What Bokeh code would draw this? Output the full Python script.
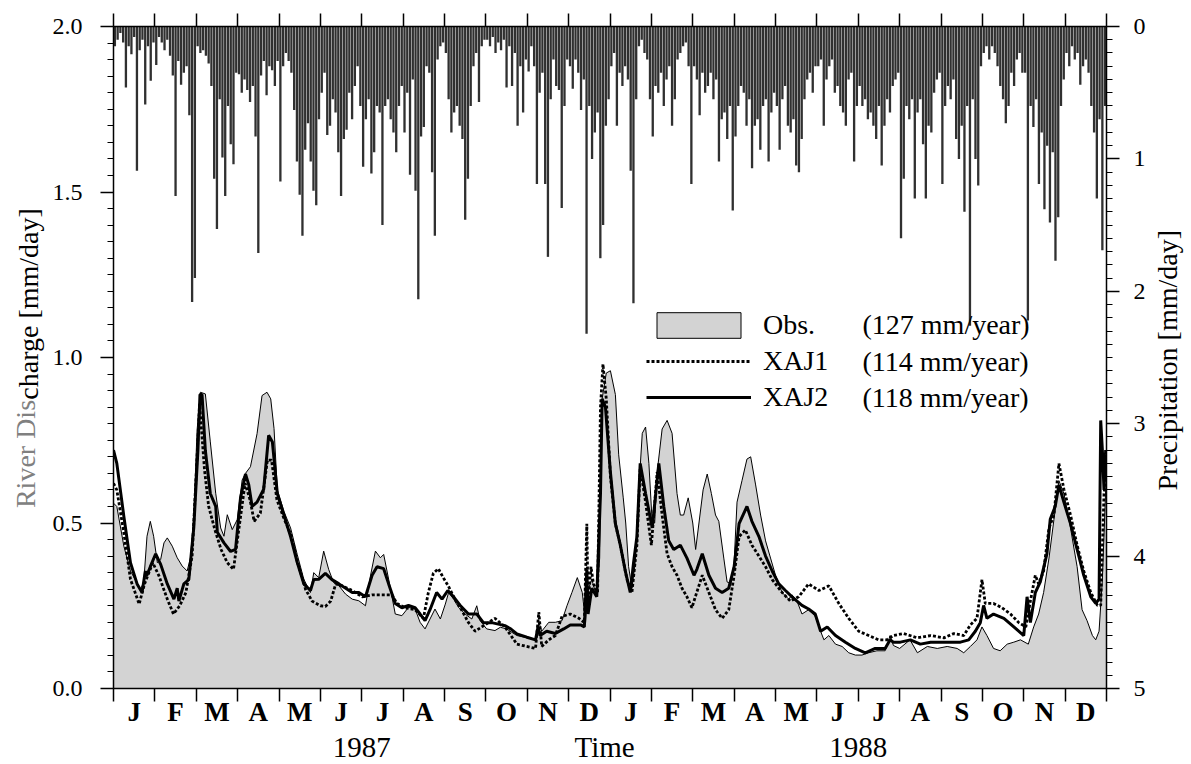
import math
from bokeh.plotting import figure
from bokeh.models import (LinearAxis, Range1d, FixedTicker, Label,
                          Legend, LegendItem, NumeralTickFormatter)
from bokeh.embed import file_html
from bokeh.resources import INLINE

# ---------------- data (x in months since Jan 1987, equal-width months) -------------
month_labels = ["J", "F", "M", "A", "M", "J", "J", "A", "S", "O", "N", "D"]
year_labels = ["1987", "1988"]
x_title = "Time"
y_title_parts = ["River Dis", "charge [mm/day]"]
y2_title = "Precipitation [mm/day]"
legend_names = ["Obs.", "XAJ1", "XAJ2"]
legend_totals = ["(127 mm/year)", "(114 mm/year)", "(118 mm/year)"]

obs_t = [0.00, 0.08, 0.25, 0.41, 0.65, 0.73, 0.81, 0.89, 0.97, 1.06, 1.14, 1.22, 1.30, 1.42, 1.54, 1.66,
         1.78, 1.86, 1.94, 2.02, 2.10, 2.22, 2.34, 2.47, 2.59, 2.67, 2.75, 2.87, 2.99, 3.11, 3.19, 3.31,
         3.47, 3.59, 3.71, 3.80, 3.88, 3.96, 4.12, 4.28, 4.44, 4.60, 4.76, 4.84, 4.96, 5.08, 5.20, 5.32,
         5.45, 5.61, 5.77, 5.93, 6.09, 6.21, 6.33, 6.45, 6.53, 6.65, 6.81, 6.97, 7.13, 7.29, 7.41, 7.53,
         7.65, 7.77, 7.90, 8.02, 8.10, 8.22, 8.34, 8.50, 8.66, 8.78, 8.86, 9.02, 9.22, 9.35, 9.50, 9.75,
         9.99, 10.20, 10.28, 10.35, 10.52, 10.68, 10.84, 10.96, 11.08, 11.21, 11.33, 11.41, 11.45, 11.56,
         11.68, 11.75, 11.81, 11.91, 12.01, 12.13, 12.21, 12.32, 12.38, 12.45, 12.53, 12.61, 12.69, 12.78,
         12.86, 12.94, 13.02, 13.08, 13.14, 13.26, 13.38, 13.50, 13.62, 13.70, 13.78, 13.89, 14.00, 14.07,
         14.15, 14.25, 14.35, 14.45, 14.55, 14.63, 14.75, 14.83, 14.92, 15.00, 15.07, 15.19, 15.31, 15.40,
         15.52, 15.64, 15.76, 15.88, 16.00, 16.16, 16.32, 16.40, 16.52, 16.64, 16.80, 16.96, 17.09, 17.17,
         17.29, 17.45, 17.61, 17.77, 17.93, 18.09, 18.25, 18.45, 18.65, 18.77, 18.85, 19.00, 19.25, 19.43,
         19.67, 19.91, 20.15, 20.39, 20.55, 20.71, 20.87, 20.99, 21.11, 21.27, 21.43, 21.60, 21.76, 21.92,
         22.11, 22.24, 22.36, 22.48, 22.61, 22.73, 22.85, 22.97, 23.13, 23.29, 23.41, 23.53, 23.66, 23.74,
         23.82, 23.90, 23.98, 24.00]
obs_v = [0.56, 0.55, 0.43, 0.355, 0.30, 0.32, 0.46, 0.505, 0.46, 0.38, 0.39, 0.44, 0.455, 0.43, 0.395, 0.37,
         0.355, 0.395, 0.52, 0.78, 0.895, 0.89, 0.745, 0.59, 0.485, 0.46, 0.525, 0.48, 0.51, 0.63, 0.65, 0.67,
         0.77, 0.885, 0.895, 0.875, 0.785, 0.60, 0.535, 0.485, 0.405, 0.33, 0.29, 0.35, 0.335, 0.415, 0.36, 0.32,
         0.31, 0.285, 0.27, 0.265, 0.25, 0.34, 0.415, 0.395, 0.405, 0.33, 0.225, 0.22, 0.245, 0.24, 0.20, 0.18,
         0.21, 0.24, 0.21, 0.255, 0.29, 0.27, 0.245, 0.225, 0.21, 0.25, 0.205, 0.18, 0.175, 0.185, 0.18, 0.16,
         0.153, 0.147, 0.20, 0.173, 0.20, 0.20, 0.205, 0.25, 0.29, 0.335, 0.29, 0.20, 0.29, 0.33,
         0.277, 0.394, 0.875, 0.953, 0.96, 0.888, 0.706, 0.576, 0.50, 0.368, 0.303, 0.381, 0.589, 0.771,
         0.79, 0.68, 0.50, 0.50, 0.654, 0.784, 0.81, 0.771, 0.589, 0.524, 0.524, 0.576, 0.50, 0.42,
         0.50, 0.60, 0.648, 0.589, 0.524, 0.505, 0.394, 0.322, 0.316, 0.381, 0.563, 0.628, 0.693, 0.70,
         0.615, 0.524, 0.446, 0.394, 0.342, 0.29, 0.27, 0.283, 0.264, 0.225, 0.238, 0.218, 0.173, 0.147,
         0.16, 0.134, 0.127, 0.108, 0.101, 0.101, 0.108, 0.114, 0.114, 0.16, 0.13, 0.121, 0.147, 0.108,
         0.127, 0.121, 0.127, 0.121, 0.108, 0.127, 0.147, 0.186, 0.16, 0.121, 0.114, 0.134, 0.14, 0.147,
         0.134, 0.186, 0.225, 0.29, 0.394, 0.511, 0.628, 0.589, 0.485, 0.368, 0.238, 0.205, 0.16, 0.147,
         0.173, 0.329, 0.60, 0.62]

xaj1_t = [0.00, 0.08, 0.25, 0.41, 0.62, 0.75, 0.95, 1.10, 1.30, 1.45, 1.60, 1.75, 1.90, 2.02, 2.08, 2.20,
          2.30, 2.45, 2.60, 2.75, 2.90, 3.05, 3.18, 3.30, 3.40, 3.55, 3.72, 3.82, 3.95, 4.10, 4.30, 4.45,
          4.60, 4.64, 4.80, 5.00, 5.12, 5.25, 5.37, 5.53, 5.77, 6.01, 6.25, 6.49, 6.73, 6.85, 7.05, 7.29,
          7.49, 7.61, 7.73, 7.85, 7.97, 8.09, 8.25, 8.41, 8.58, 8.74, 8.90, 9.22, 9.46, 9.75, 10.20, 10.28,
          10.35, 10.52, 10.68, 10.84, 11.04, 11.25, 11.38, 11.44, 11.47, 11.54, 11.60, 11.70, 11.77, 11.83,
          11.91, 12.01, 12.13, 12.25, 12.41, 12.53, 12.65, 12.73, 12.86, 13.00, 13.14, 13.26, 13.38, 13.50,
          13.62, 13.74, 13.86, 13.98, 14.07, 14.23, 14.39, 14.55, 14.71, 14.87, 15.00, 15.12, 15.27, 15.43,
          15.60, 15.76, 15.92, 16.16, 16.36, 16.56, 16.80, 17.05, 17.29, 17.53, 17.77, 18.01, 18.25, 18.49,
          18.69, 18.85, 19.10, 19.43, 19.75, 20.07, 20.31, 20.55, 20.71, 20.87, 20.99, 21.07, 21.27, 21.47,
          21.68, 21.88, 22.05, 22.16, 22.28, 22.36, 22.48, 22.61, 22.73, 22.85, 22.97, 23.13, 23.29, 23.45,
          23.62, 23.78, 23.86, 23.94, 24.00]
xaj1_v = [0.62, 0.60, 0.47, 0.33, 0.255, 0.316, 0.38, 0.34, 0.27, 0.225, 0.25, 0.29, 0.40, 0.70, 0.86, 0.66,
          0.55, 0.48, 0.42, 0.38, 0.36, 0.50, 0.62, 0.57, 0.505, 0.53, 0.69, 0.69, 0.57, 0.52, 0.46, 0.38,
          0.32, 0.30, 0.264, 0.25, 0.248, 0.264, 0.316, 0.31, 0.296, 0.277, 0.283, 0.283, 0.283, 0.257, 0.244, 0.238,
          0.212, 0.29, 0.348, 0.362, 0.335, 0.31, 0.27, 0.238, 0.199, 0.173, 0.186, 0.212, 0.186, 0.134, 0.121, 0.231,
          0.127, 0.147, 0.16, 0.218, 0.225, 0.212, 0.199, 0.498, 0.251, 0.368, 0.316, 0.29, 0.85, 0.98,
          0.875, 0.641, 0.498, 0.433, 0.329, 0.29, 0.433, 0.667, 0.563, 0.433, 0.654, 0.524, 0.407, 0.368,
          0.342, 0.303, 0.277, 0.244, 0.28, 0.342, 0.29, 0.238, 0.212, 0.238, 0.342, 0.459, 0.479, 0.433,
          0.40, 0.368, 0.329, 0.29, 0.264, 0.277, 0.316, 0.296, 0.31, 0.257, 0.212, 0.173, 0.16, 0.147,
          0.147, 0.16, 0.166, 0.153, 0.16, 0.153, 0.166, 0.16, 0.192, 0.212, 0.329, 0.257, 0.257, 0.244,
          0.225, 0.199, 0.186, 0.264, 0.342, 0.316, 0.355, 0.485, 0.524, 0.68, 0.602, 0.524, 0.433, 0.355,
          0.29, 0.251, 0.251, 0.589, 0.641]

xaj2_t = [0.00, 0.08, 0.25, 0.41, 0.57, 0.69, 0.77, 0.80, 0.89, 1.02, 1.14, 1.30, 1.46, 1.54, 1.58, 1.70,
          1.82, 1.94, 2.04, 2.09, 2.14, 2.22, 2.34, 2.47, 2.51, 2.67, 2.83, 2.95, 3.07, 3.19, 3.27, 3.35,
          3.47, 3.63, 3.75, 3.84, 3.96, 4.12, 4.28, 4.44, 4.60, 4.76, 4.84, 4.96, 5.12, 5.28, 5.45, 5.61,
          5.77, 5.93, 6.09, 6.25, 6.37, 6.53, 6.65, 6.81, 6.97, 7.13, 7.29, 7.41, 7.53, 7.65, 7.81, 7.94,
          8.08, 8.22, 8.38, 8.58, 8.78, 8.94, 9.14, 9.46, 9.60, 9.75, 9.99, 10.20, 10.26, 10.31, 10.47, 10.68,
          10.88, 11.04, 11.29, 11.38, 11.44, 11.47, 11.56, 11.68, 11.77, 11.81, 11.89, 12.01, 12.13, 12.25,
          12.37, 12.49, 12.57, 12.65, 12.73, 12.86, 13.02, 13.18, 13.30, 13.42, 13.54, 13.70, 13.86, 14.03,
          14.10, 14.23, 14.39, 14.55, 14.71, 14.87, 15.00, 15.12, 15.31, 15.43, 15.60, 15.76, 15.92, 16.08,
          16.24, 16.40, 16.64, 16.80, 16.96, 17.09, 17.25, 17.45, 17.69, 17.93, 18.17, 18.41, 18.65, 18.77,
          18.85, 19.02, 19.26, 19.50, 19.75, 19.99, 20.23, 20.47, 20.67, 20.83, 20.95, 21.03, 21.11, 21.27,
          21.52, 21.76, 22.00, 22.08, 22.16, 22.28, 22.40, 22.56, 22.64, 22.76, 22.85, 22.97, 23.13, 23.29,
          23.45, 23.62, 23.74, 23.82, 23.86, 23.90, 23.94, 23.98, 24.00]
xaj2_v = [0.72, 0.68, 0.52, 0.38, 0.316, 0.29, 0.355, 0.34, 0.368, 0.407, 0.375, 0.316, 0.27, 0.303, 0.264, 0.316,
          0.329, 0.485, 0.719, 0.888, 0.888, 0.719, 0.589, 0.55, 0.472, 0.44, 0.414, 0.42, 0.576, 0.648, 0.615, 0.55,
          0.563, 0.602, 0.765, 0.745, 0.589, 0.524, 0.459, 0.381, 0.316, 0.296, 0.329, 0.33, 0.348, 0.329, 0.316, 0.303,
          0.29, 0.29, 0.277, 0.342, 0.368, 0.362, 0.316, 0.257, 0.244, 0.251, 0.244, 0.225, 0.205, 0.238, 0.29, 0.27,
          0.296, 0.277, 0.251, 0.225, 0.225, 0.199, 0.199, 0.19, 0.18, 0.165, 0.155, 0.147, 0.186, 0.16, 0.173, 0.166,
          0.18, 0.192, 0.192, 0.186, 0.36, 0.225, 0.303, 0.277, 0.589, 0.875, 0.85, 0.654, 0.498, 0.433,
          0.355, 0.29, 0.381, 0.459, 0.68, 0.589, 0.485, 0.68, 0.55, 0.446, 0.42, 0.433, 0.394, 0.342,
          0.36, 0.407, 0.342, 0.303, 0.29, 0.303, 0.368, 0.498, 0.55, 0.505, 0.459, 0.40, 0.355, 0.316,
          0.296, 0.277, 0.251, 0.24, 0.225, 0.173, 0.186, 0.16, 0.14, 0.121, 0.108, 0.121, 0.121, 0.147,
          0.14, 0.14, 0.147, 0.134, 0.14, 0.14, 0.14, 0.14, 0.147, 0.173, 0.199, 0.251, 0.212, 0.225,
          0.212, 0.186, 0.16, 0.277, 0.199, 0.29, 0.322, 0.407, 0.511, 0.55, 0.615, 0.563, 0.498, 0.42,
          0.342, 0.277, 0.257, 0.27, 0.81, 0.72, 0.60, 0.72, 0.706]

# daily precipitation read every ~2 days (15 readings per month), mm/day
precip_1987 = [
    [0.15, 0.10, 0.05, 0.12, 0.46, 0.15, 0.21, 0.08, 1.09, 0.18, 0.10, 0.59, 0.15, 0.41, 0.12],
    [0.29, 0.08, 0.12, 0.18, 0.10, 0.22, 0.37, 1.28, 0.26, 0.44, 0.35, 0.30, 0.67, 2.08, 1.90],
    [0.15, 0.20, 0.18, 0.22, 0.28, 0.45, 1.15, 1.53, 0.55, 0.99, 1.28, 0.60, 0.89, 1.04, 0.35],
    [0.36, 0.50, 0.40, 0.48, 0.57, 0.45, 0.83, 1.71, 0.37, 0.26, 0.52, 0.30, 0.33, 0.45, 0.26],
    [1.17, 0.30, 0.20, 0.26, 0.35, 0.63, 1.02, 1.27, 1.58, 0.93, 0.73, 1.02, 1.24, 1.35, 0.70],
    [0.50, 0.35, 0.82, 0.75, 0.55, 0.65, 0.95, 1.28, 0.85, 0.78, 0.50, 0.70, 0.45, 0.30, 0.60],
    [1.06, 0.70, 0.55, 1.11, 0.95, 0.60, 0.65, 1.50, 0.60, 0.55, 0.70, 0.80, 0.95, 0.60, 0.45],
    [0.80, 0.50, 1.12, 0.40, 1.24, 2.06, 0.83, 0.76, 0.30, 0.35, 1.10, 1.58, 0.25, 0.15, 0.12],
    [0.20, 0.55, 0.80, 0.65, 0.60, 0.75, 0.85, 1.46, 1.15, 0.60, 0.30, 0.20, 0.57, 0.15, 0.10],
    [0.10, 0.15, 0.08, 0.20, 0.12, 0.18, 0.10, 0.46, 0.15, 0.45, 0.20, 0.75, 0.30, 0.65, 0.25],
    [0.34, 0.15, 0.30, 1.19, 0.50, 0.35, 1.19, 1.74, 0.55, 0.25, 0.45, 0.48, 1.37, 0.60, 0.25],
    [0.30, 0.47, 0.25, 0.35, 0.63, 0.40, 2.32, 0.60, 1.00, 0.80, 0.65, 1.75, 1.50, 0.75, 0.55],
]
precip_1988 = [
    [0.30, 0.20, 0.75, 0.35, 0.45, 0.30, 0.40, 1.09, 2.09, 0.55, 0.15, 0.10, 0.20, 0.25, 0.55],
    [0.83, 0.45, 0.50, 0.35, 0.60, 0.40, 0.30, 0.75, 0.55, 0.25, 0.20, 0.15, 0.12, 0.30, 1.19],
    [0.30, 0.40, 0.67, 0.35, 0.50, 0.45, 0.35, 0.55, 0.40, 1.02, 0.70, 0.65, 0.85, 0.60, 1.39],
    [0.83, 0.60, 0.45, 0.50, 0.75, 0.55, 1.07, 0.75, 0.70, 0.93, 0.60, 0.55, 1.02, 0.65, 0.50],
    [0.60, 0.93, 0.55, 0.45, 0.75, 0.80, 0.70, 1.05, 1.10, 0.85, 0.55, 0.40, 0.35, 0.50, 0.30],
    [0.30, 0.25, 0.75, 0.40, 0.30, 0.25, 0.50, 0.45, 0.60, 0.65, 0.75, 0.40, 0.35, 1.02, 0.60],
    [0.45, 0.60, 0.55, 0.70, 0.65, 0.75, 0.85, 0.60, 1.05, 0.75, 0.55, 0.65, 0.45, 0.40, 0.35],
    [1.60, 1.15, 0.60, 0.70, 0.55, 1.30, 0.65, 0.55, 0.89, 1.30, 0.75, 0.80, 0.50, 0.40, 0.35],
    [1.19, 0.60, 0.45, 0.55, 0.40, 0.85, 1.00, 0.75, 1.40, 0.60, 2.26, 0.55, 1.00, 1.20, 0.30],
    [0.20, 0.15, 0.25, 0.15, 0.20, 0.30, 0.45, 0.55, 0.73, 0.60, 0.35, 0.45, 0.25, 0.20, 0.35],
    [0.35, 2.22, 0.60, 0.76, 0.55, 1.19, 0.80, 1.38, 0.90, 1.48, 0.95, 1.77, 1.44, 0.60, 0.40],
    [0.20, 0.30, 0.15, 0.25, 0.20, 0.44, 0.30, 0.25, 0.35, 0.60, 0.80, 1.30, 0.70, 1.69, 0.60],
]

# ---------------- figure -------------
SERIF = "Liberation Serif"
FL, FT, FW, FH = 113, 26, 993, 662   # frame position/size in page pixels

p = figure(frame_width=FW, frame_height=FH, min_border_left=FL, min_border_right=84,
           min_border_top=FT, min_border_bottom=76,
           x_range=Range1d(0, 24), y_range=Range1d(0, 2.0),
           x_axis_location=None, y_axis_location=None,
           toolbar_location=None, output_backend="svg", outline_line_color=None)
p.extra_y_ranges = {"precip": Range1d(start=5, end=0)}
p.grid.visible = False
p.background_fill_color = "white"
p.border_fill_color = "white"

# precipitation bars hanging from the top
pt, pv = [], []
for yi, yr in enumerate([precip_1987, precip_1988]):
    for mi, vals in enumerate(yr):
        n = len(vals)
        for k, v in enumerate(vals):
            pt.append(yi * 12 + mi + (k + 0.5) / n)
            pv.append(v)
p.vbar(x=pt, width=0.056, top=0, bottom=pv, y_range_name="precip",
       fill_color="#303030", line_color=None)

# observed discharge area
patch_x = obs_t + [obs_t[-1], obs_t[0]]
patch_y = obs_v + [0.0, 0.0]
obs_r = p.patch(patch_x, patch_y, fill_color="#d3d3d3", line_color="black", line_width=1)
x1_r = p.line(xaj1_t, xaj1_v, line_color="black", line_width=2.8, line_dash="3 2")
x2_r = p.line(xaj2_t, xaj2_v, line_color="black", line_width=3)

# ---------------- axes -------------
def style_axis(ax):
    ax.axis_line_color = "black"
    ax.axis_line_width = 1.5
    ax.major_tick_line_color = "black"
    ax.major_tick_line_width = 1.5
    ax.minor_tick_line_color = "black"
    ax.minor_tick_line_width = 1.2
    ax.major_tick_in = 0
    ax.minor_tick_in = 0
    ax.major_label_text_font = SERIF
    ax.major_label_text_font_size = "24px"
    ax.major_label_text_color = "black"

def title_axis(ax):
    ax.axis_line_color = None
    ax.major_tick_line_color = None
    ax.minor_tick_line_color = None
    ax.major_tick_out = 0
    ax.minor_tick_out = 0
    ax.major_tick_in = 0
    ax.minor_tick_in = 0
    ax.major_label_text_font = SERIF
    ax.major_label_text_font_size = "28px"

left = LinearAxis(ticker=FixedTicker(ticks=[0, 0.5, 1.0, 1.5, 2.0],
                                     minor_ticks=[i * 0.05 for i in range(41)]),
                  formatter=NumeralTickFormatter(format="0.0"))
style_axis(left)
left.major_tick_out = 13
left.minor_tick_out = 6
left.major_label_standoff = 18
p.add_layout(left, "left")

px_per_unit = FH / 2.0
def yv(pix):  # page pixel -> discharge data value
    return (FT + FH - pix) / px_per_unit

# left title: "River Dis" (grey) + "charge [mm/day]" (black) on one line
fs = 28
w_part1 = 3.861 * fs
w_part2 = 6.859 * fs
start_px = 357.5 + (w_part1 + w_part2) / 2
c1 = round(yv(start_px - w_part1 / 2), 4)
c2 = round(yv(start_px - w_part1 - w_part2 / 2), 4)

t_black = LinearAxis(ticker=FixedTicker(ticks=[c2], minor_ticks=[]))
title_axis(t_black)
t_black.major_label_overrides = {c2: y_title_parts[1]}
t_black.major_label_orientation = "vertical"
t_black.major_label_text_color = "black"
t_black.major_label_standoff = 5
p.add_layout(t_black, "left")

t_grey = LinearAxis(ticker=FixedTicker(ticks=[c1], minor_ticks=[]))
title_axis(t_grey)
t_grey.major_label_overrides = {c1: y_title_parts[0]}
t_grey.major_label_orientation = "vertical"
t_grey.major_label_text_color = "#808080"
t_grey.major_label_standoff = -31
p.add_layout(t_grey, "left")

right = LinearAxis(y_range_name="precip",
                   ticker=FixedTicker(ticks=[0, 1, 2, 3, 4, 5],
                                      minor_ticks=[i * 0.1 for i in range(51)]),
                   formatter=NumeralTickFormatter(format="0"))
style_axis(right)
right.major_tick_out = 13
right.minor_tick_out = 6
right.major_label_standoff = 14
p.add_layout(right, "right")

# right title drawn as a rotated label that starts at the lower end of the text
r_start = round(yv(490), 4)
t_right = LinearAxis(ticker=FixedTicker(ticks=[r_start], minor_ticks=[]))
title_axis(t_right)
t_right.major_label_overrides = {r_start: y2_title}
t_right.major_label_orientation = math.pi / 2
t_right.major_label_text_color = "black"
t_right.major_label_standoff = 19
p.add_layout(t_right, "right")

month_bounds = list(range(25))

top = LinearAxis(ticker=FixedTicker(ticks=month_bounds, minor_ticks=[]))
style_axis(top)
top.major_tick_out = 13
top.minor_tick_out = 0
top.major_label_overrides = {t: "" for t in month_bounds}
top.major_label_text_font_size = "0px"
top.major_label_standoff = 0
p.add_layout(top, "above")

# bottom: month boundary ticks (minor) + month initials at mid-month (major, no tick)
month_mids = [m + 0.5 for m in range(24)]
bottom = LinearAxis(ticker=FixedTicker(ticks=month_mids, minor_ticks=month_bounds))
style_axis(bottom)
bottom.major_tick_out = 0
bottom.minor_tick_out = 13
bottom.minor_tick_line_width = 1.5
bottom.major_label_overrides = {m: month_labels[i % 12] for i, m in enumerate(month_mids)}
bottom.major_label_text_font_size = "27px"
bottom.major_label_text_font_style = "bold"
bottom.major_label_standoff = -5
p.add_layout(bottom, "below")

# second row: years and the axis title
year_pos = [6.0, 11.87, 18.0]
years_ax = LinearAxis(ticker=FixedTicker(ticks=year_pos, minor_ticks=[]))
title_axis(years_ax)
years_ax.major_label_overrides = {year_pos[0]: year_labels[0], year_pos[1]: x_title,
                                  year_pos[2]: year_labels[1]}
years_ax.major_label_text_font_size = "29px"
years_ax.major_label_text_color = "black"
years_ax.major_label_standoff = 1
p.add_layout(years_ax, "below")

def xv(pix):
    return (pix - FL) / (FW / 24)

# legend
legend = Legend(items=[LegendItem(label=legend_names[0], renderers=[obs_r]),
                       LegendItem(label=legend_names[1], renderers=[x1_r]),
                       LegendItem(label=legend_names[2], renderers=[x2_r])],
                location=(533, 275), glyph_width=105, glyph_height=32, label_height=26,
                label_standoff=12, spacing=4, padding=0, margin=0,
                border_line_color=None, background_fill_alpha=0,
                label_text_font=SERIF, label_text_font_size="28px",
                label_text_color="black")
p.add_layout(legend)
for i, txt in enumerate(legend_totals):
    p.add_layout(Label(x=xv(862), y=yv(324 + 36.5 * i), text=txt, text_align="left",
                       text_baseline="middle", text_font=SERIF, text_font_size="28px",
                       text_color="black"))

open("out.html", "w").write(file_html(p, INLINE))
